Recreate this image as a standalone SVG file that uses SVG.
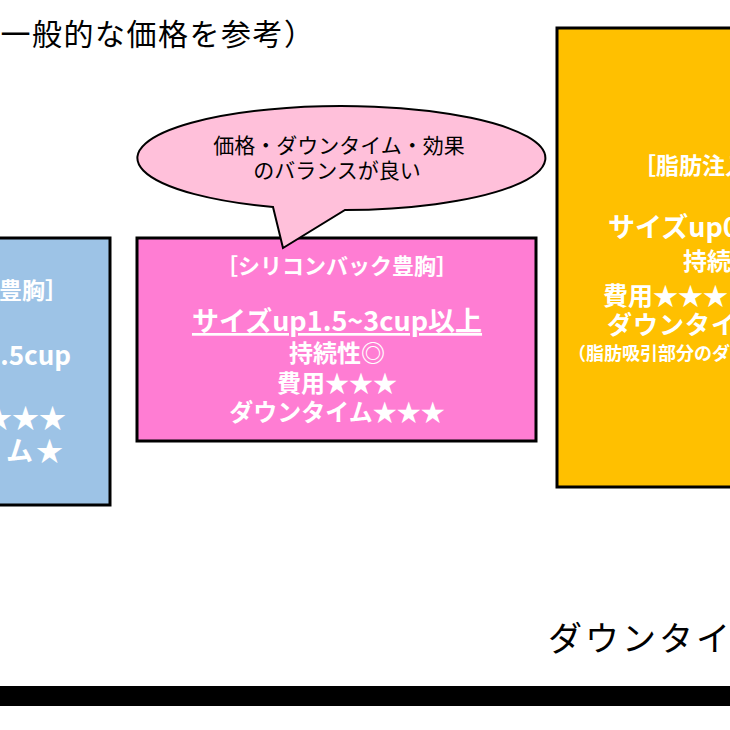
<svg xmlns="http://www.w3.org/2000/svg" width="730" height="730" viewBox="0 0 730 730">
<style>
.jp{font-family:"Noto Sans CJK JP","Noto Sans",sans-serif;}
.box{stroke:#000;stroke-width:3;}
.w{fill:#fff;font-weight:bold;}
.thin{fill:#000;font-weight:normal;}
</style>
<rect x="0" y="0" width="730" height="730" fill="#fff"/>
<text class="jp thin" x="-31" y="45" font-size="30" letter-spacing="1.5">（一般的な価格を参考）</text>

<g id="hyaluronic">
<rect class="box" x="-20" y="238" width="130" height="267" fill="#9DC3E6"/>
<text class="jp w" x="68" y="299" font-size="23" text-anchor="end" font-weight="500">豊胸］</text>
<text class="jp w" x="71" y="365" font-size="26" text-anchor="end">1.5cup</text>
<text class="jp w" x="66" y="428" font-size="27" text-anchor="end">★★★</text>
<text class="jp w" x="66" y="461" font-size="27" text-anchor="end" letter-spacing="3">ム★</text>
</g>

<g id="silicone">
<rect class="box" x="137" y="238" width="399" height="203" fill="#FF7DD3"/>
<g text-anchor="middle">
<text class="jp w" x="337" y="274" font-size="22" font-weight="500">［シリコンバック豊胸］</text>
<text class="jp w" x="337" y="331" font-size="27" text-decoration="underline">サイズup1.5~3cup以上</text>
<text class="jp w" x="337" y="362" font-size="24">持続性◎</text>
<text class="jp w" x="337" y="392" font-size="24">費用★★★</text>
<text class="jp w" x="337" y="421" font-size="24">ダウンタイム★★★</text>
</g>
</g>

<g id="bubble">
<path d="M273,207 L283,248 L345,210 A204,52 0 1 0 273,207 Z" fill="#FFC0DA" stroke="#000" stroke-width="2"/>
<g text-anchor="middle">
<text class="jp thin" x="339" y="153" font-size="21">価格・ダウンタイム・効果</text>
<text class="jp thin" x="337" y="178" font-size="21">のバランスが良い</text>
</g>
</g>

<g id="fat">
<rect class="box" x="557" y="28" width="200" height="459" fill="#FFC000"/>
<text class="jp w" x="633" y="174" font-size="23" font-weight="500">［脂肪注入豊胸］</text>
<text class="jp w" x="608" y="237" font-size="27">サイズup0.5~1cup</text>
<text class="jp w" x="683" y="270" font-size="24">持続性</text>
<text class="jp w" x="603" y="305" font-size="25">費用★★★</text>
<text class="jp w" x="607" y="334" font-size="25" letter-spacing="1">ダウンタイム</text>
<text class="jp w" x="568" y="360" font-size="18">（脂肪吸引部分のダウンタイム）</text>
</g>

<g id="connectors"></g>

<text class="jp thin" x="548" y="651" font-size="34" letter-spacing="3">ダウンタイム</text>
<rect x="0" y="686" width="730" height="20" fill="#000"/>
</svg>
